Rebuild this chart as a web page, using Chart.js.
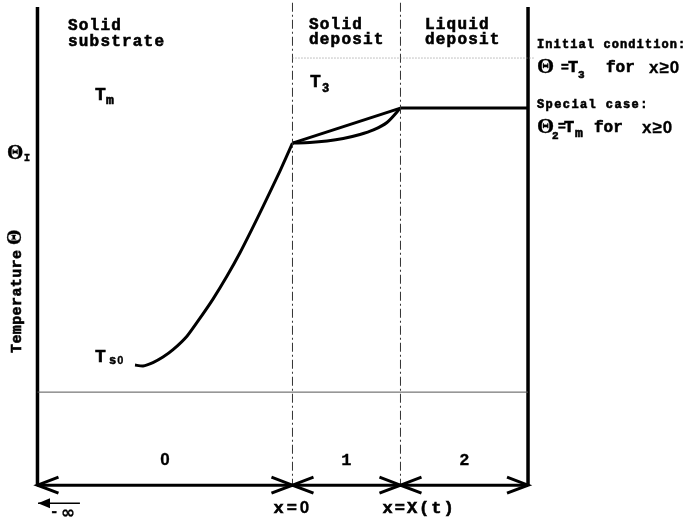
<!DOCTYPE html>
<html>
<head>
<meta charset="utf-8">
<script src="https://cdn.jsdelivr.net/npm/chart.js@4/dist/chart.umd.min.js"></script>
<style>
  html, body { margin: 0; padding: 0; background: #fff; }
  #wrap { width: 691px; height: 522px; position: relative; }
</style>
</head>
<body>
<div id="wrap"><canvas id="c"></canvas></div>
<script>
// Position along the domain: x = 0 at the substrate/deposit interface, x = 1 at the front X(t)
const zoneEdges = [-2.361, 0, 1, 2.181];
const zoneNumbers = ['0', '1', '2'];

// Normalised temperature levels (T_s0 = 0, T_3 = 1)
const levelTs0 = 0;
const levelThetaI = 0.723;
const levelTm = 0.837;
const levelT3 = 1.0;
const levelBase = -0.088;
const levelArrows = -0.391;
const levelTop = 1.166;
const levelDividerTop = 1.18;
const levelInfArrow = -0.450;
const infArrowX = [-1.968, -2.356];

// Substrate temperature profile, from T_s0 up to the interface temperature
const substrateX = [-1.458, -1.384, -1.292, -1.199, -1.106, -0.977, -0.856, -0.736, -0.606, -0.486, -0.375, -0.273, -0.116, 0];
const substrateT = [levelTs0, -0.003, 0.008, 0.026, 0.050, 0.094, 0.153, 0.215, 0.290, 0.366, 0.443, 0.516, 0.632, levelThetaI];

// Solid deposit: linear and curved profiles between Θ_I and T_m
const depositLinX = [0, 1];
const depositLinT = [levelThetaI, levelTm];
const depositCurveX = [0, 0.16, 0.32, 0.47, 0.625, 0.75, 0.875, 1];
const depositCurveT = [levelThetaI, 0.725, 0.730, 0.738, 0.751, 0.766, 0.790, levelTm];

// Liquid deposit held at the melting temperature
const liquidX = [1, zoneEdges[3]];
const liquidT = [levelTm, levelTm];

const pts = (xs, ys) => xs.map((v, i) => ({ x: v, y: ys[i] }));
const hline = (x0, x1, yv) => [{ x: x0, y: yv }, { x: x1, y: yv }];
const vline = (xv, y0, y1) => [{ x: xv, y: y0 }, { x: xv, y: y1 }];

const line = (data, opts) => Object.assign({
  data, showLine: true, pointRadius: 0, borderColor: '#000', borderWidth: 3,
  fill: false, clip: false, tension: 0
}, opts || {});

const datasets = [
  line(hline(zoneEdges[0], zoneEdges[3], levelBase), { borderColor: '#555', borderWidth: 1 }),
  line(hline(zoneEdges[1], zoneEdges[3] + 0.06, levelT3), { borderColor: '#888', borderWidth: 1, borderDash: [1, 2] }),
  line(vline(zoneEdges[1], levelDividerTop, levelArrows), { borderColor: '#333', borderWidth: 1, borderDash: [9, 3, 2, 3] }),
  line(vline(zoneEdges[2], levelDividerTop, levelArrows), { borderColor: '#333', borderWidth: 1, borderDash: [9, 3, 2, 3] }),
  line(vline(zoneEdges[0], levelTop, levelArrows), { borderWidth: 3.5 }),
  line(vline(zoneEdges[3], levelTop, levelArrows), { borderWidth: 3.5 }),
  line(hline(zoneEdges[0], zoneEdges[3], levelArrows), { borderWidth: 3 }),
  line(pts(substrateX, substrateT), { tension: 0.2, borderJoinStyle: 'round' }),
  line(pts(depositLinX, depositLinT)),
  line(pts(depositCurveX, depositCurveT), { tension: 0.3, borderJoinStyle: 'round' }),
  line(pts(liquidX, liquidT)),
  line(hline(infArrowX[0], infArrowX[1], levelInfArrow), { borderWidth: 1.5 })
];

const MONO = '"Liberation Mono", "Courier New", monospace';
const SERIF = '"Liberation Serif", "DejaVu Serif", serif';
const SANS = '"Liberation Sans", Arial, sans-serif';

// typewriter-style text, thickened with a light outline; returns the end x
function put(ctx, text, font, x, y, spacing, align, heavy) {
  ctx.font = font;
  ctx.letterSpacing = (spacing || 0) + 'px';
  ctx.textAlign = align || 'left';
  ctx.fillText(text, x, y);
  const w = heavy === undefined ? 0.6 : heavy;
  if (w > 0) {
    ctx.lineWidth = w;
    ctx.strokeText(text, x, y);
  }
  return x + ctx.measureText(text).width;
}

const annotations = {
  id: 'annotations',
  afterDatasetsDraw(chart) {
    const { ctx, scales: { x, y } } = chart;
    const X = v => x.getPixelForValue(v);
    const Y = v => y.getPixelForValue(v);
    ctx.save();
    ctx.fillStyle = '#000';
    ctx.strokeStyle = '#000';
    ctx.textBaseline = 'alphabetic';

    // double-headed arrows marking each region
    const ay = Y(levelArrows);
    ctx.lineWidth = 3;
    ctx.lineJoin = 'miter';
    const head = (tip, dir) => {
      ctx.beginPath();
      ctx.moveTo(tip + dir * 21, ay - 8);
      ctx.lineTo(tip, ay);
      ctx.lineTo(tip + dir * 21, ay + 8);
      ctx.stroke();
    };
    for (let i = 0; i < zoneEdges.length - 1; i++) {
      head(X(zoneEdges[i]), 1);
      head(X(zoneEdges[i + 1]), -1);
    }
    // arrow toward -infinity
    const iy = Y(levelInfArrow), ix = X(infArrowX[1]);
    ctx.beginPath();
    ctx.moveTo(ix, iy);
    ctx.lineTo(ix + 12, iy - 5);
    ctx.lineTo(ix + 12, iy + 5);
    ctx.closePath();
    ctx.fill();

    // region headings
    const HEAD = 'bold 16px ' + MONO;
    put(ctx, 'Solid', HEAD, 68, 30, 1.2);
    put(ctx, 'substrate', HEAD, 68, 46, 1.2);
    put(ctx, 'Solid', HEAD, 309, 29, 1.2);
    put(ctx, 'deposit', HEAD, 309, 44, 1.2);
    put(ctx, 'Liquid', HEAD, 425, 29, 1.2);
    put(ctx, 'deposit', HEAD, 425, 44, 1.2);

    // temperature labels
    put(ctx, 'T', 'bold 18px ' + MONO, 95, 100);
    put(ctx, 'm', 'bold 13px ' + MONO, 106, 104);
    put(ctx, 'T', 'bold 18px ' + MONO, 310, 87);
    put(ctx, '3', 'bold 12px ' + MONO, 322, 92);
    put(ctx, 'T', 'bold 18px ' + MONO, 95, 362);
    const sx = put(ctx, 's', 'bold 12px ' + MONO, 109, 364);
    put(ctx, '0', 'bold 11px ' + SANS, sx + 1, 364, 0, 'left', 0.3);
    put(ctx, 'Θ', 'bold 21px ' + SERIF, 7, Y(levelThetaI) + 16, 0, 'left', 0.3);
    put(ctx, 'I', 'bold 10px ' + MONO, 24, Y(levelThetaI) + 18);

    // vertical axis title
    ctx.save();
    ctx.translate(21, 353);
    ctx.rotate(-Math.PI / 2);
    put(ctx, 'Temperature', 'bold 15px ' + MONO, 0, 0, 0.4);
    put(ctx, 'Θ', 'bold 20px ' + SERIF, 108, 0, 0, 'left', 0.3);
    ctx.restore();

    // conditions on the right
    put(ctx, 'Initial condition:', 'bold 12px ' + MONO, 537, 48, 1.1);
    put(ctx, 'Θ', 'bold 22px ' + SERIF, 537, 73, 0, 'left', 0.3);
    put(ctx, '=', 'bold 13px ' + MONO, 561, 71);
    put(ctx, 'T', 'bold 17px ' + MONO, 568, 72);
    put(ctx, '3', 'bold 11px ' + MONO, 578, 78);
    put(ctx, 'for', 'bold 16px ' + MONO, 606, 72);
    put(ctx, 'x≥0', 'bold 17px ' + SANS, 649, 73, 1, 'left', 0.3);

    put(ctx, 'Special case:', 'bold 12px ' + MONO, 537, 108, 1.4);
    put(ctx, 'Θ', 'bold 22px ' + SERIF, 537, 133, 0, 'left', 0.3);
    put(ctx, '2', 'bold 11px ' + MONO, 552, 139);
    put(ctx, '=', 'bold 13px ' + MONO, 558, 130);
    put(ctx, 'T', 'bold 17px ' + MONO, 564, 132);
    put(ctx, 'm', 'bold 13px ' + MONO, 575, 137);
    put(ctx, 'for', 'bold 16px ' + MONO, 594, 132);
    put(ctx, 'x≥0', 'bold 17px ' + SANS, 642, 133, 1, 'left', 0.3);

    // region numbers and positions along x
    for (let i = 0; i < zoneNumbers.length; i++) {
      const cx = (X(zoneEdges[i]) + X(zoneEdges[i + 1])) / 2;
      const digitFont = zoneNumbers[i] === '0' ? 'bold 17px ' + SANS : 'bold 17px ' + MONO;
      put(ctx, zoneNumbers[i], digitFont, cx, 465, 0, 'center', 0.3);
    }
    const ex = put(ctx, 'x=', 'bold 17px ' + MONO, X(zoneEdges[1]) - 19, 513, 3);
    put(ctx, '0', 'bold 17px ' + SANS, ex, 513, 0, 'left', 0.3);
    put(ctx, 'x=X(t)', 'bold 17px ' + MONO, X(zoneEdges[2]) - 18, 513, 2);
    put(ctx, '-', 'bold 14px ' + MONO, 50, 516);
    put(ctx, '∞', 'bold 17px "DejaVu Sans", sans-serif', 61, 518, 0, 'left', 0.3);

    ctx.restore();
  }
};

new Chart(document.getElementById('c'), {
  type: 'scatter',
  data: { datasets },
  options: {
    responsive: true,
    maintainAspectRatio: false,
    animation: false,
    layout: { padding: 0 },
    plugins: { legend: { display: false }, tooltip: { enabled: false } },
    scales: {
      x: { type: 'linear', display: false, min: -2.708, max: 3.690 },
      y: { type: 'linear', display: false, min: -0.511, max: 1.189 }
    }
  },
  plugins: [annotations]
});
</script>
</body>
</html>
